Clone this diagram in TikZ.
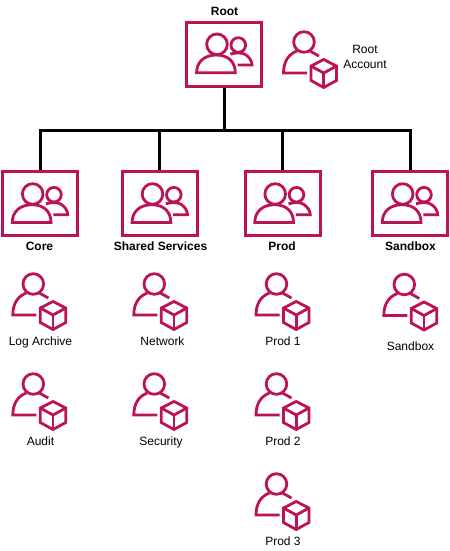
\documentclass[tikz,border=0pt]{standalone}
\usepackage{fontspec}
\setmainfont{Liberation Sans}
\definecolor{awspink}{HTML}{BC1356}
\tikzset{x=0.75pt,y=-0.75pt,
  boxnode/.style={draw=awspink,line width=2.25pt,minimum width=56.25pt,minimum height=48pt,inner sep=0pt,fill=white},
  head/.style={font=\bfseries\fontsize{9}{11}\selectfont,inner sep=0pt},
  label/.style={font=\fontsize{9}{11}\selectfont,inner sep=0pt,align=center},
  bus/.style={draw=black,line width=2.25pt},
  ico/.style={draw=awspink,line width=2.1pt,fill=none,line join=miter},
  groupicon/.pic={
    \draw[ico] (-7.3,-9.7) circle (10.3);
    \draw[ico] (-27.7,18.7) .. controls (-27.7,8) and (-20,1) .. (-8,1) .. controls (4,1) and (11,8) .. (11,18.7) -- cycle;
    \draw[ico] (14,-9) circle (7.3);
    \draw[ico] (6,0) .. controls (12,-1.5) and (18,-1.5) .. (21,0.5) .. controls (25,3) and (27.7,7) .. (27.7,11) -- (13.3,11);
  },
  accounticon/.pic={
    \draw[ico] (0,0) circle (10.3);
    \draw[ico] (6,9) -- (15,14);
    \draw[ico] (-7,9) .. controls (-15,12) and (-20.5,19) .. (-20.5,31) -- (3,31);
    \draw[ico] (19.7,17.5) -- (32.5,24) -- (32.5,38.5) -- (19.7,45.5) -- (7,38.5) -- (7,24) -- cycle;
    \draw[ico] (7,24) -- (19.7,31) -- (32.5,24);
    \draw[ico] (19.7,31) -- (19.7,45.5);
  }
}
\begin{document}
\begin{tikzpicture}
\useasboundingbox (0,0) rectangle (450,551);
\node[boxnode] (root) at (224.3,54) {};
\node[boxnode] (core) at (40,203.7) {};
\node[boxnode] (shared) at (159.8,203.7) {};
\node[boxnode] (prod) at (282.5,203.7) {};
\node[boxnode] (sandbox) at (410,203.7) {};
\coordinate (busL) at (40,130);
\coordinate (busR) at (410,130);
\draw[bus,line cap=rect] (busL) -- (busR);
\draw[bus] (root.south) -- (root.south |- busL);
\draw[bus] (core.north) -- (core.north |- busL);
\draw[bus] (shared.north) -- (shared.north |- busL);
\draw[bus] (prod.north) -- (prod.north |- busL);
\draw[bus] (sandbox.north) -- (sandbox.north |- busL);
\pic at (224.3,54) {groupicon};
\pic at (40,203.7) {groupicon};
\pic at (159.8,203.7) {groupicon};
\pic at (282.5,203.7) {groupicon};
\pic at (410,203.7) {groupicon};
\node[head] (troot) at (224.5,11) {Root};
\node[head] (tcore) at (39.5,246) {Core};
\node[head] (tshared) at (160.5,246) {Shared Services};
\node[head] (tprod) at (282,246) {Prod};
\node[head] (tsand) at (410.5,246) {Sandbox};
\pic at (304,42) {accounticon};
\node[label] (lroot) at (365,57) {Root\\Account};
\pic at (33.3,284) {accounticon};
\pic at (33.3,384) {accounticon};
\pic at (154.3,284) {accounticon};
\pic at (154.3,384) {accounticon};
\pic at (276.5,284) {accounticon};
\pic at (276.5,384) {accounticon};
\pic at (276.5,484) {accounticon};
\pic at (404.3,284.5) {accounticon};
\node[label] (l1) at (40.5,342.3) {Log Archive};
\node[label] (l2) at (40.5,441) {Audit};
\node[label] (l3) at (162.5,341) {Network};
\node[label] (l4) at (161,442.3) {Security};
\node[label] (l5) at (283,341) {Prod 1};
\node[label] (l6) at (283,441) {Prod 2};
\node[label] (l7) at (283,541) {Prod 3};
\node[label] (l8) at (410.5,346) {Sandbox};
\end{tikzpicture}
\end{document}
